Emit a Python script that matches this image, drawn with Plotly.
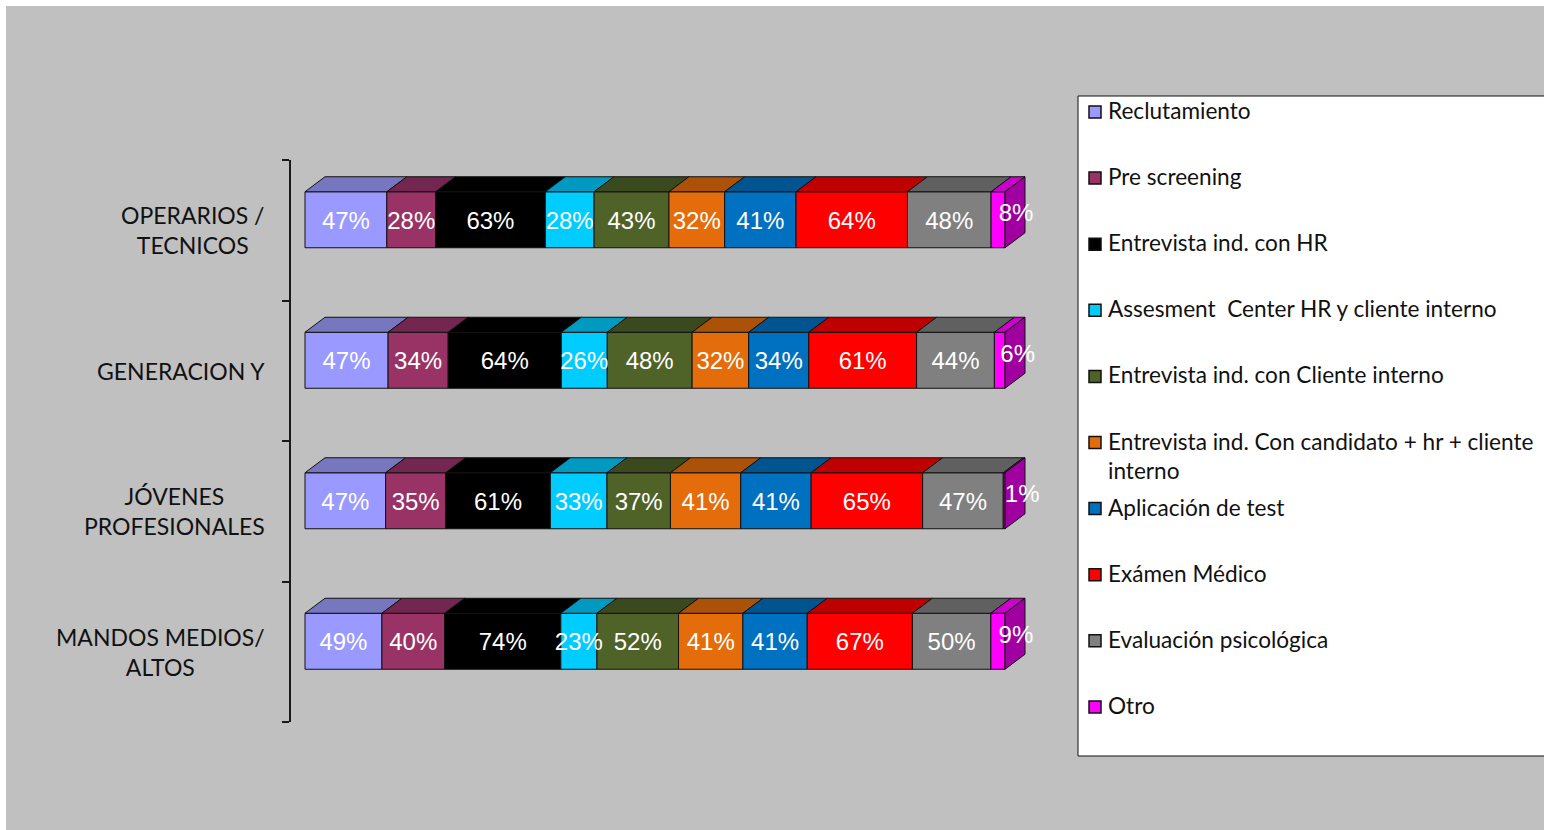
import plotly.graph_objects as go

# ---- data -------------------------------------------------------------
categories = [
    "OPERARIOS /<br>TECNICOS",
    "GENERACION Y",
    "JÓVENES<br>PROFESIONALES",
    "MANDOS MEDIOS/<br>ALTOS",
]

series_names = [
    "Reclutamiento",
    "Pre screening",
    "Entrevista ind. con HR",
    "Assesment\u00a0 Center HR y cliente interno",
    "Entrevista ind. con Cliente interno",
    "Entrevista ind. Con candidato + hr + cliente<br>interno",
    "Aplicación de test",
    "Exámen Médico",
    "Evaluación psicológica",
    "Otro",
]

reclutamiento = [47, 47, 47, 49]
pre_screening = [28, 34, 35, 40]
entrevista_hr = [63, 64, 61, 74]
assesment_center = [28, 26, 33, 23]
entrevista_cliente = [43, 48, 37, 52]
entrevista_candidato = [32, 32, 41, 41]
aplicacion_test = [41, 34, 41, 41]
examen_medico = [64, 61, 65, 67]
evaluacion_psicologica = [48, 44, 47, 50]
otro = [8, 6, 1, 9]

series_values = [
    reclutamiento, pre_screening, entrevista_hr, assesment_center,
    entrevista_cliente, entrevista_candidato, aplicacion_test,
    examen_medico, evaluacion_psicologica, otro,
]

front_colors = ["#9999FF", "#993366", "#000000", "#00CCFF", "#4F6228",
                "#E46C0A", "#0070C0", "#FF0000", "#808080", "#FF00FF"]
top_colors = ["#7777BF", "#732650", "#000000", "#0099BF", "#3B4A1E",
              "#AB5108", "#005490", "#BF0000", "#606060", "#CC00CC"]
side_color = "#A000A0"

# ---- geometry (pixels of a 1544 x 830 page) ---------------------------
W, H = 1544, 830
BAR_LEFT_PX = 305          # left edge of the front faces
PX_PER_UNIT_X = 7.0        # 100 % of a row spans 700 px
AXIS_TOP_PX, AXIS_BOT_PX = 160, 722
AXIS_X_PX = 290
PX_PER_UNIT_Y = (AXIS_BOT_PX - AXIS_TOP_PX) / len(categories)

FRONT_OFF = -10.5 / PX_PER_UNIT_Y     # front face sits above the row centre
FRONT_H = 56 / PX_PER_UNIT_Y
DEPTH_X = 20 / PX_PER_UNIT_X
DEPTH_Y = 15 / PX_PER_UNIT_Y
LABEL_DY = 3 / PX_PER_UNIT_Y          # small downward nudge for the value labels
END_LABEL_DX = 8 / PX_PER_UNIT_X      # extra shift for the labels at the bar end

n_rows = len(categories)
row_totals = [sum(s[r] for s in series_values) for r in range(n_rows)]

fig = go.Figure()

cum = [0.0] * n_rows
label_x, label_y, label_t = [], [], []
for k, (name, vals) in enumerate(zip(series_names, series_values)):
    widths = [100.0 * v / t for v, t in zip(vals, row_totals)]
    ys = [r + FRONT_OFF for r in range(n_rows)]
    fig.add_trace(go.Bar(
        orientation="h", y=ys, x=widths, base=cum[:], width=FRONT_H,
        marker=dict(color=front_colors[k], line=dict(color="#111111", width=1)),
        showlegend=False, hoverinfo="skip",
    ))
    # top faces of the 3D blocks
    px, py = [], []
    for r in range(n_rows):
        x0, x1 = cum[r], cum[r] + widths[r]
        yt = r + FRONT_OFF - FRONT_H / 2
        px += [x0, x1, x1 + DEPTH_X, x0 + DEPTH_X, x0, None]
        py += [yt, yt, yt - DEPTH_Y, yt - DEPTH_Y, yt, None]
    fig.add_trace(go.Scatter(
        x=px, y=py, mode="lines", fill="toself", fillcolor=top_colors[k],
        line=dict(color="#111111", width=1), showlegend=False, hoverinfo="skip",
    ))
    last = k == len(series_values) - 1
    if last:
        # right-hand side faces
        sx, sy = [], []
        for r in range(n_rows):
            x1 = cum[r] + widths[r]
            yt = r + FRONT_OFF - FRONT_H / 2
            yb = r + FRONT_OFF + FRONT_H / 2
            sx += [x1, x1 + DEPTH_X, x1 + DEPTH_X, x1, x1, None]
            sy += [yt, yt - DEPTH_Y, yb - DEPTH_Y, yb, yt, None]
        fig.add_trace(go.Scatter(
            x=sx, y=sy, mode="lines", fill="toself", fillcolor=side_color,
            line=dict(color="#111111", width=1), showlegend=False, hoverinfo="skip",
        ))
    for r in range(n_rows):
        cx = cum[r] + widths[r] / 2
        cy = r + FRONT_OFF + LABEL_DY
        if last:
            cx += DEPTH_X / 2 + END_LABEL_DX
            cy -= DEPTH_Y / 2
        label_x.append(cx)
        label_y.append(cy)
        label_t.append(f"{vals[r]}%")
    cum = [c + w for c, w in zip(cum, widths)]

fig.add_trace(go.Scatter(
    x=label_x, y=label_y, text=label_t, mode="text",
    textfont=dict(family="Liberation Sans, Arial, sans-serif", size=24, color="white"),
    showlegend=False, hoverinfo="skip", cliponaxis=False,
))

# ---- category labels ---------------------------------------------------
annotations = []
for r, cat in enumerate(categories):
    annotations.append(dict(
        x=267 / W, xref="paper", xanchor="right", y=r, yref="y", yanchor="middle",
        text=cat, showarrow=False, align="center",
        font=dict(family="Lato, sans-serif", size=23, color="#111111"),
    ))

# ---- background, legend box and legend entries -------------------------
shapes = [
    dict(type="rect", xref="paper", yref="paper", x0=6 / W, x1=1.0, y0=0.0, y1=1 - 6 / H,
         fillcolor="#C0C0C0", line=dict(width=0), layer="below"),
    dict(type="rect", xref="paper", yref="paper", x0=1078 / W, x1=1.02,
         y0=1 - 756 / H, y1=1 - 96 / H,
         fillcolor="white", line=dict(color="#111111", width=1), layer="below"),
]
LEG_FIRST_PX, LEG_STEP_PX = 112.0, 66.1
for k, name in enumerate(series_names):
    yc = LEG_FIRST_PX + k * LEG_STEP_PX
    shapes.append(dict(
        type="rect", xref="paper", yref="paper",
        x0=1089 / W, x1=1101 / W, y0=1 - (yc + 6) / H, y1=1 - (yc - 6) / H,
        fillcolor=front_colors[k], line=dict(color="#111111", width=1.5), layer="above",
    ))
    annotations.append(dict(
        x=1106 / W, xref="paper", xanchor="left",
        y=1 - (yc - 17) / H, yref="paper", yanchor="top",
        text=name, showarrow=False, align="left",
        font=dict(family="Lato, sans-serif", size=22.6, color="#111111"),
    ))

fig.update_layout(
    width=W, height=H,
    margin=dict(l=0, r=0, t=0, b=0),
    paper_bgcolor="white", plot_bgcolor="rgba(0,0,0,0)",
    barmode="overlay", showlegend=False,
    xaxis=dict(visible=False, domain=[0, 1], fixedrange=True,
               range=[-BAR_LEFT_PX / PX_PER_UNIT_X, (W - BAR_LEFT_PX) / PX_PER_UNIT_X]),
    yaxis=dict(domain=[1 - AXIS_BOT_PX / H, 1 - AXIS_TOP_PX / H],
               range=[n_rows - 0.5, -0.5], anchor="free", position=AXIS_X_PX / W,
               showline=True, linecolor="#1a1a1a", linewidth=2,
               ticks="outside", ticklen=7, tickwidth=2, tickcolor="#1a1a1a",
               tickvals=[r - 0.5 for r in range(n_rows + 1)],
               showticklabels=False, showgrid=False, zeroline=False, fixedrange=True),
    shapes=shapes, annotations=annotations,
)

fig.write_html("out.html")
